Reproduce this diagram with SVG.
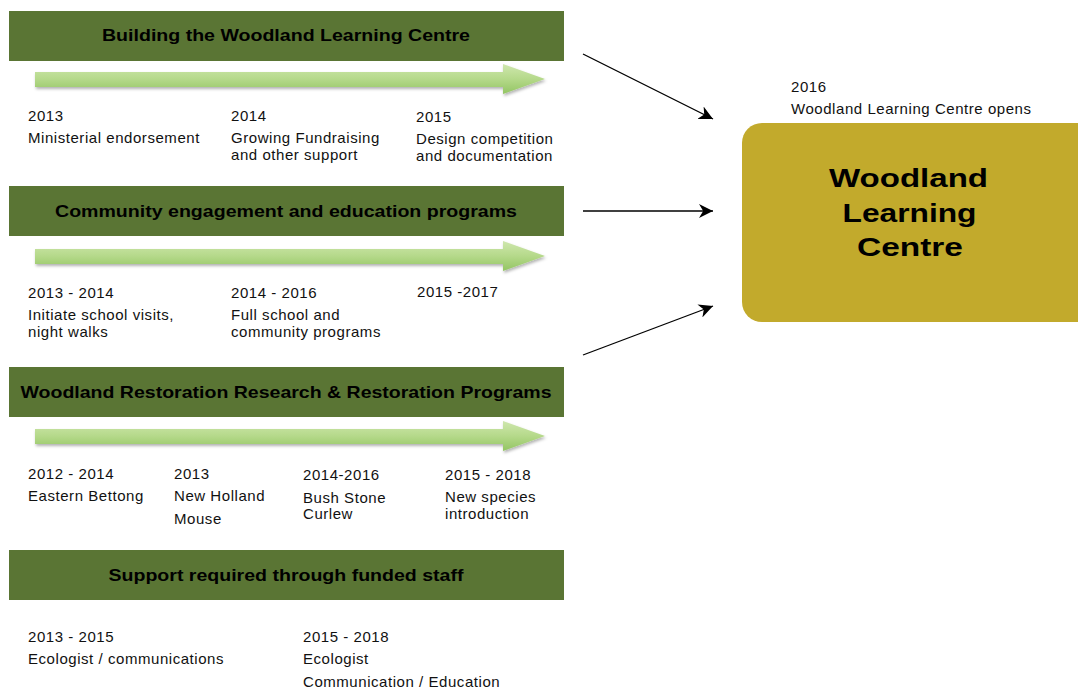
<svg xmlns="http://www.w3.org/2000/svg" width="1078" height="689" viewBox="0 0 1078 689">
<defs>
<linearGradient id="ag" x1="0" y1="0" x2="0" y2="1">
<stop offset="0" stop-color="#cfe7ae"/>
<stop offset="0.5" stop-color="#b5d98a"/>
<stop offset="1" stop-color="#93c563"/>
</linearGradient>
<filter id="sh" x="-5%" y="-30%" width="110%" height="160%">
<feDropShadow dx="1" dy="2" stdDeviation="1.5" flood-color="#000" flood-opacity="0.3"/>
</filter>
<marker id="ah" viewBox="0 0 10 10" refX="10" refY="5" markerWidth="14" markerHeight="14" markerUnits="userSpaceOnUse" orient="auto">
<path d="M0,0 L10,5 L0,10 L3,5 Z" fill="#000"/>
</marker>
<path id="tl" d="M35,72 H503 V64 L545,79 L503,94 V87 H35 Z"/>
</defs>
<style>
.band{fill:#5a7534}
.bt{font-family:"Liberation Sans",Arial,sans-serif;font-weight:bold;font-size:16.5px;fill:#000;text-anchor:middle}
.t{font-family:"Liberation Sans",Arial,sans-serif;font-size:15px;letter-spacing:0.55px;fill:#111}
.big{font-family:"Liberation Sans",Arial,sans-serif;font-weight:bold;font-size:26.5px;fill:#000;text-anchor:middle}
.con{stroke:#000;stroke-width:1.3;fill:none;marker-end:url(#ah)}
</style>
<rect width="1078" height="689" fill="#fff"/>

<g id="section1">
<rect class="band" x="9" y="11" width="555" height="50"/>
<text class="bt" x="286" y="41" textLength="368" lengthAdjust="spacingAndGlyphs">Building the Woodland Learning Centre</text>
<use href="#tl" fill="url(#ag)" filter="url(#sh)"/>
<text class="t" x="28" y="121">2013</text>
<text class="t" x="28" y="143">Ministerial endorsement</text>
<text class="t" x="231" y="121">2014</text>
<text class="t" x="231" y="143">Growing Fundraising</text>
<text class="t" x="231" y="160">and other support</text>
<text class="t" x="416" y="122">2015</text>
<text class="t" x="416" y="144">Design competition</text>
<text class="t" x="416" y="161">and documentation</text>
</g>

<g id="section2">
<rect class="band" x="9" y="186" width="555" height="50"/>
<text class="bt" x="286" y="217" textLength="462" lengthAdjust="spacingAndGlyphs">Community engagement and education programs</text>
<use href="#tl" fill="url(#ag)" filter="url(#sh)" transform="translate(0,177)"/>
<text class="t" x="28" y="298">2013 - 2014</text>
<text class="t" x="28" y="320">Initiate school visits,</text>
<text class="t" x="28" y="337">night walks</text>
<text class="t" x="231" y="298">2014 - 2016</text>
<text class="t" x="231" y="320">Full school and</text>
<text class="t" x="231" y="337">community programs</text>
<text class="t" x="417" y="297">2015 -2017</text>
</g>

<g id="section3">
<rect class="band" x="9" y="367" width="555" height="50"/>
<text class="bt" x="286" y="398" textLength="531" lengthAdjust="spacingAndGlyphs">Woodland Restoration Research &amp; Restoration Programs</text>
<use href="#tl" fill="url(#ag)" filter="url(#sh)" transform="translate(0,357)"/>
<text class="t" x="28" y="479">2012 - 2014</text>
<text class="t" x="28" y="501">Eastern Bettong</text>
<text class="t" x="174" y="479">2013</text>
<text class="t" x="174" y="501">New Holland</text>
<text class="t" x="174" y="524">Mouse</text>
<text class="t" x="303" y="480">2014-2016</text>
<text class="t" x="303" y="503">Bush Stone</text>
<text class="t" x="303" y="519">Curlew</text>
<text class="t" x="445" y="480">2015 - 2018</text>
<text class="t" x="445" y="502">New species</text>
<text class="t" x="445" y="519">introduction</text>
</g>

<g id="section4">
<rect class="band" x="9" y="550" width="555" height="50"/>
<text class="bt" x="286" y="581" textLength="355" lengthAdjust="spacingAndGlyphs">Support required through funded staff</text>
<text class="t" x="28" y="642">2013 - 2015</text>
<text class="t" x="28" y="664">Ecologist / communications</text>
<text class="t" x="303" y="642">2015 - 2018</text>
<text class="t" x="303" y="664">Ecologist</text>
<text class="t" x="303" y="687">Communication / Education</text>
</g>

<g id="connectors">
<line class="con" x1="583" y1="54" x2="713" y2="119"/>
<line class="con" x1="583" y1="211" x2="713" y2="211"/>
<line class="con" x1="583" y1="355" x2="713" y2="306"/>
</g>

<g id="centre">
<text class="t" x="791" y="92">2016</text>
<text class="t" x="791" y="114">Woodland Learning Centre opens</text>
<rect x="742" y="123" width="360" height="199" rx="20" fill="#c2aa2c"/>
<text class="big" x="908.5" y="187" textLength="159" lengthAdjust="spacingAndGlyphs">Woodland</text>
<text class="big" x="909.5" y="222" textLength="134" lengthAdjust="spacingAndGlyphs">Learning</text>
<text class="big" x="910" y="256" textLength="106" lengthAdjust="spacingAndGlyphs">Centre</text>
</g>
</svg>
